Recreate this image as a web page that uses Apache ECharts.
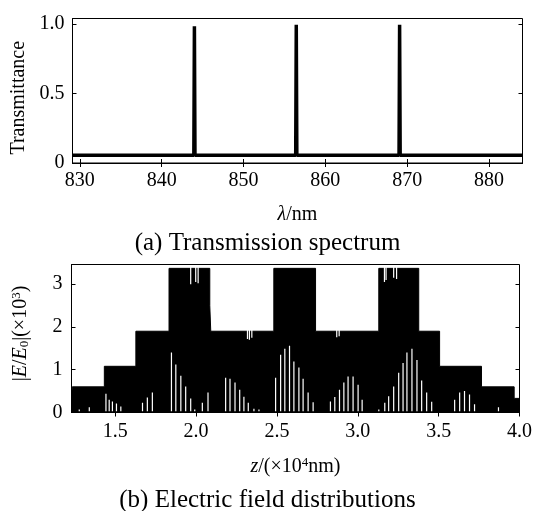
<!DOCTYPE html>
<html><head><meta charset="utf-8">
<script src="https://cdn.jsdelivr.net/npm/echarts@6/dist/echarts.min.js"></script>
<style>html,body{margin:0;padding:0;background:#fff}#c{width:535px;height:511px}</style>
</head><body><div id="c"></div>
<script>
// ---- (a) Transmission spectrum ----
var specX = [829.1, 843.93, 844.0, 844.07, 856.38, 856.45, 856.52, 869.01, 869.08, 869.15, 884.1];
var specT = [0.055, 0.055, 0.985, 0.055, 0.055, 0.995, 0.055, 0.055, 0.995, 0.055, 0.055];
var specTicks = [830, 840, 850, 860, 870, 880];
var transTicks = [0, 0.5, 1.0];
var transLabels = ['0', '0.5', '1.0'];

// ---- (b) Electric field distribution: envelope ----
var envZ = [1.23, 1.235, 1.433, 1.433, 1.628, 1.628, 1.833, 1.833, 2.085, 2.085, 2.091, 2.091, 2.481, 2.481, 2.739, 2.739, 3.130, 3.130, 3.377, 3.377, 3.506, 3.506, 3.765, 3.765, 3.967, 3.967, 4.0];
var envE = [0.35, 0.6, 0.6, 1.08, 1.08, 1.9, 1.9, 3.37, 3.37, 2.5, 2.5, 1.9, 1.9, 3.37, 3.37, 1.9, 1.9, 3.37, 3.37, 1.9, 1.9, 1.08, 1.08, 0.6, 0.6, 0.33, 0.33];
// white gaps from the bottom (minima not reached)
var gapZ = [1.278, 1.340, 1.443, 1.463, 1.483, 1.508, 1.535, 1.669, 1.699, 1.730,
  1.848, 1.875, 1.906, 1.936, 1.967, 1.992, 2.039, 2.074, 2.183, 2.210, 2.241, 2.270, 2.296, 2.323, 2.358, 2.389,
  2.492, 2.523, 2.549, 2.578, 2.605, 2.636, 2.662, 2.693, 2.724, 2.831, 2.858, 2.887, 2.914, 2.940, 2.971, 3.002, 3.027,
  3.130, 3.167, 3.191, 3.222, 3.253, 3.280, 3.304, 3.335, 3.366, 3.395, 3.426, 3.457, 3.599, 3.630, 3.660, 3.691, 3.722, 3.870];
var gapTop = [0.07, 0.12, 0.44, 0.30, 0.26, 0.21, 0.14, 0.23, 0.35, 0.47,
  1.40, 1.12, 0.86, 0.61, 0.33, 0.07, 0.23, 0.47, 0.81, 0.79, 0.70, 0.53, 0.37, 0.23, 0.09, 0.07,
  0.81, 1.35, 1.49, 1.56, 1.19, 1.05, 0.79, 0.47, 0.24, 0.26, 0.36, 0.53, 0.70, 0.84, 0.84, 0.65, 0.30,
  0.07, 0.23, 0.38, 0.61, 0.93, 1.16, 1.40, 1.49, 1.23, 0.75, 0.47, 0.25, 0.30, 0.47, 0.50, 0.42, 0.19, 0.12];
// white dips from the top of the plateaus
var dipZ = [1.967, 1.998, 2.013, 2.318, 2.330, 2.345, 2.870, 2.885, 3.165, 3.175, 3.222, 3.240];
var dipLow = [3.00, 3.05, 3.02, 1.72, 1.70, 1.75, 1.76, 1.78, 3.05, 3.10, 3.15, 3.12];
var dipHigh = [3.45, 3.45, 3.45, 2.0, 2.0, 2.0, 2.0, 2.0, 3.45, 3.45, 3.45, 3.45];
var zTicks = [1.5, 2.0, 2.5, 3.0, 3.5, 4.0];
var eTicks = [0, 1, 2, 3];

var FONT = 'Liberation Serif';
var chart = echarts.init(document.getElementById('c'), null, {renderer: 'canvas'});

function pairs(a, b) { return a.map(function (v, i) { return [v, b[i]]; }); }
var gapData = gapZ.map(function (z, i) { return [z, 0.03, gapTop[i]]; });
var dipData = dipZ.map(function (z, i) { return [z, dipLow[i], dipHigh[i]]; });

function whiteLine(params, api) {
  var x = api.value(0), lo = api.value(1), hi = api.value(2);
  var p0 = api.coord([x, lo]);
  var p1 = api.coord([x, hi]);
  return {type: 'rect', shape: {x: p0[0] - 0.6, y: p1[1], width: 1.2, height: p0[1] - p1[1]},
    style: {fill: '#ffffff', stroke: null}};
}

var tickStyle = {show: true, inside: true, length: 4, lineStyle: {color: '#000', width: 1}};
var labStyle = {color: '#000', fontFamily: FONT, fontSize: 20};
var rich = {
  n: {fontFamily: FONT, fontSize: 20, color: '#000'},
  i: {fontFamily: FONT, fontSize: 20, fontStyle: 'italic', color: '#000'},
  sub: {fontFamily: FONT, fontSize: 13, color: '#000', verticalAlign: 'bottom', padding: [8, 0, 0, 0]},
  sup: {fontFamily: FONT, fontSize: 13, color: '#000', verticalAlign: 'top', padding: [0, 0, 8, 0]}
};

var option = {
  animation: false,
  backgroundColor: '#fff',
  title: [
    {text: '(a) Transmission spectrum', left: 'center', top: 226, textStyle: {fontFamily: FONT, fontSize: 25, fontWeight: 'normal', color: '#000'}},
    {text: '(b) Electric field distributions', left: 'center', top: 483, textStyle: {fontFamily: FONT, fontSize: 25, fontWeight: 'normal', color: '#000'}}
  ],
  grid: [
    {left: 72.5, right: 12.5, top: 18.5, height: 144.5, show: true, borderColor: '#000', borderWidth: 1},
    {left: 71.5, right: 13, top: 264.5, height: 148, show: true, borderColor: '#000', borderWidth: 1}
  ],
  xAxis: [
    {gridIndex: 0, type: 'value', min: 829.1, max: 884.1, position: 'bottom',
      axisLine: {show: true, lineStyle: {color: '#000'}}, splitLine: {show: false},
      axisTick: Object.assign({customValues: specTicks}, tickStyle),
      axisLabel: Object.assign({customValues: specTicks, margin: 8}, labStyle),
      name: '{i|λ}{n|/nm}', nameLocation: 'middle', nameGap: 42, nameTextStyle: {rich: rich}},
    {gridIndex: 0, type: 'value', min: 829.1, max: 884.1, position: 'top',
      axisLine: {show: false}, splitLine: {show: false},
      axisTick: Object.assign({customValues: specTicks}, tickStyle), axisLabel: {show: false}},
    {gridIndex: 1, type: 'value', min: 1.23, max: 4.0, position: 'bottom',
      axisLine: {show: true, lineStyle: {color: '#000'}}, splitLine: {show: false},
      axisTick: Object.assign({customValues: zTicks}, tickStyle),
      axisLabel: Object.assign({customValues: zTicks, margin: 9, formatter: function (v) { return v.toFixed(1); }}, labStyle),
      name: '{i|z}{n|/(×10}{sup|4}{n|nm)}', nameLocation: 'middle', nameGap: 44, nameTextStyle: {rich: rich}},
    {gridIndex: 1, type: 'value', min: 1.23, max: 4.0, position: 'top',
      axisLine: {show: false}, splitLine: {show: false},
      axisTick: Object.assign({customValues: zTicks}, tickStyle), axisLabel: {show: false}}
  ],
  yAxis: [
    {gridIndex: 0, type: 'value', min: 0, max: 1.04, position: 'left',
      axisLine: {show: true, lineStyle: {color: '#000'}}, splitLine: {show: false},
      axisTick: Object.assign({customValues: transTicks}, tickStyle),
      axisLabel: Object.assign({customValues: transTicks, margin: 8, formatter: function (v) {
        var k = transTicks.indexOf(v); return k >= 0 ? transLabels[k] : ''; }}, labStyle),
      name: 'Transmittance', nameLocation: 'middle', nameGap: 44,
      nameTextStyle: {fontFamily: FONT, fontSize: 20, color: '#000', padding: [0, 14, 0, 0]}},
    {gridIndex: 0, type: 'value', min: 0, max: 1.04, position: 'right',
      axisLine: {show: false}, splitLine: {show: false},
      axisTick: Object.assign({customValues: transTicks}, tickStyle), axisLabel: {show: false}},
    {gridIndex: 1, type: 'value', min: 0, max: 3.46, position: 'left',
      axisLine: {show: true, lineStyle: {color: '#000'}}, splitLine: {show: false},
      axisTick: Object.assign({customValues: eTicks}, tickStyle),
      axisLabel: Object.assign({customValues: eTicks, margin: 9}, labStyle),
      name: '{n||}{i|E}{n|/}{i|E}{sub|0}{n||(×10}{sup|3}{n|)}', nameLocation: 'middle', nameGap: 40,
      nameTextStyle: {rich: rich, padding: [0, 0, 0, 10]}},
    {gridIndex: 1, type: 'value', min: 0, max: 3.46, position: 'right',
      axisLine: {show: false}, splitLine: {show: false},
      axisTick: Object.assign({customValues: eTicks}, tickStyle), axisLabel: {show: false}}
  ],
  series: [
    {type: 'line', xAxisIndex: 0, yAxisIndex: 0, data: pairs(specX, specT), showSymbol: false,
      lineStyle: {color: '#000', width: 3.5}, clip: true},
    {type: 'line', xAxisIndex: 2, yAxisIndex: 2, data: pairs(envZ, envE), showSymbol: false, z: 2,
      lineStyle: {color: '#000', width: 1}, areaStyle: {color: '#000', opacity: 1}, clip: true},
    {type: 'custom', coordinateSystem: 'cartesian2d', xAxisIndex: 2, yAxisIndex: 2, z: 10,
      dimensions: ['z', 'lo', 'hi'], encode: {x: 0, y: [1, 2]},
      data: gapData, renderItem: whiteLine, clip: true},
    {type: 'custom', coordinateSystem: 'cartesian2d', xAxisIndex: 2, yAxisIndex: 2, z: 10,
      dimensions: ['z', 'lo', 'hi'], encode: {x: 0, y: [1, 2]},
      data: dipData, renderItem: whiteLine, clip: true}
  ]
};
chart.setOption(option);
</script></body></html>
